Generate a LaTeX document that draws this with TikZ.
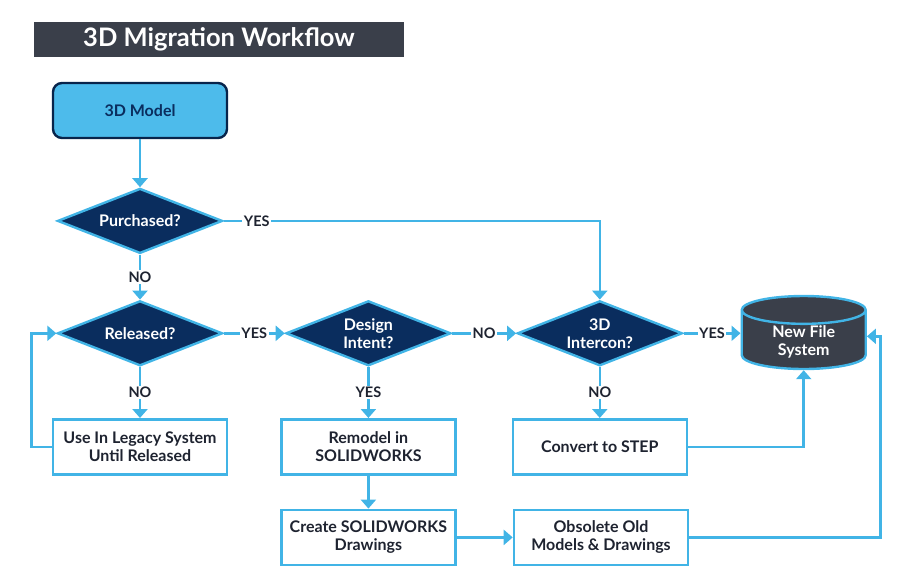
\documentclass[tikz,border=0pt]{standalone}
\usepackage{fontspec}
\setmainfont{Lato}
\usepackage{xcolor}
\definecolor{lineblue}{RGB}{65,180,230}
\definecolor{modelblue}{RGB}{77,187,235}
\definecolor{navyfill}{RGB}{10,45,94}
\definecolor{slate}{RGB}{58,63,74}
\definecolor{inkdark}{RGB}{30,35,48}
\usetikzlibrary{arrows.meta, positioning, shapes.geometric}

\begin{document}
\begin{tikzpicture}[
    x=1pt, y=-1pt,
    node distance=50pt and 64pt,
    every node/.style={align=center, font=\bfseries\fontsize{16}{18}\selectfont},
    title/.style={rectangle, fill=slate, text=white, minimum width=370pt, minimum height=35pt, font=\bfseries\fontsize{25.5}{28}\selectfont},
    startstop/.style={rectangle, rounded corners=9pt, draw=navyfill!80!black, line width=2.4pt, fill=modelblue, text=navyfill, minimum width=174pt, minimum height=55pt},
    decision/.style={diamond, draw=lineblue, line width=2.4pt, fill=navyfill, text=white, aspect=2.54, inner sep=0pt, minimum width=165pt, minimum height=65pt},
    process/.style={rectangle, draw=lineblue, line width=2.6pt, fill=white, text=inkdark, minimum width=174pt, minimum height=55pt},
    storage/.style={cylinder, shape border rotate=90, aspect=0.4, inner ysep=1pt, draw=lineblue, line width=2.4pt, fill=slate, text=white, minimum width=124pt},
    answer/.style={fill=white, text=inkdark, inner sep=1.5pt, font=\bfseries\fontsize{14.5}{16}\selectfont},
    arrow/.style={-{Triangle[width=15pt, length=9pt]}, draw=lineblue, line width=2.6pt}
]
\useasboundingbox (0,0) rectangle (920,582);

% Nodes
\node[title] (title) at (219,39.5) {3D Migration Workflow};
\node[startstop] (model) at (140,110.5) {3D Model};
\node[decision, below=48pt of model] (purchased) {Purchased?};
\node[decision, below=45pt of purchased] (released) {Released?};
\node[decision, right=61pt of released] (intent) {Design\\Intent?};
\node[decision, right=64pt of intent] (intercon) {3D\\Intercon?};
\node[storage, right=57pt of intercon, yshift=-9pt] (newfs) {New File\\System};
\node[process, below=51pt of released] (legacy) {Use In Legacy System\\Until Released};
\node[process, below=51pt of intent] (remodel) {Remodel in\\SOLIDWORKS};
\node[process, below=33pt of remodel] (create) {Create SOLIDWORKS\\Drawings};
\node[process, below=51pt of intercon] (convert) {Convert to STEP};
\node[process, right=56pt of create] (obsolete) {Obsolete Old\\Models \& Drawings};

% Connections
\draw[arrow] (model) -- (purchased);
\draw[arrow] (purchased) -- node[answer]{NO} (released);
\draw[arrow] (purchased.east) -| node[answer, pos=0.044]{YES} (intercon.north);
\draw[arrow] (released) -- node[answer]{YES} (intent);
\draw[arrow] (intent) -- node[answer]{NO} (intercon);
\draw[arrow] (intercon) -- node[answer]{YES} (intercon -| newfs.west);
\draw[arrow] (released) -- node[answer]{NO} (legacy);
\draw[arrow] (intent) -- node[answer]{YES} (remodel);
\draw[arrow] (intercon) -- node[answer]{NO} (convert);
\draw[arrow] (remodel) -- (create);
\draw[arrow] (create) -- (obsolete);
\draw[arrow] (convert.east) -| (newfs.south);
\draw[arrow] (legacy.west) -- ++(-20,0) |- (released.west);
\draw[arrow] (obsolete.east) -- ++(191,0) |- ([yshift=6pt]newfs.east);

\end{tikzpicture}
\end{document}
